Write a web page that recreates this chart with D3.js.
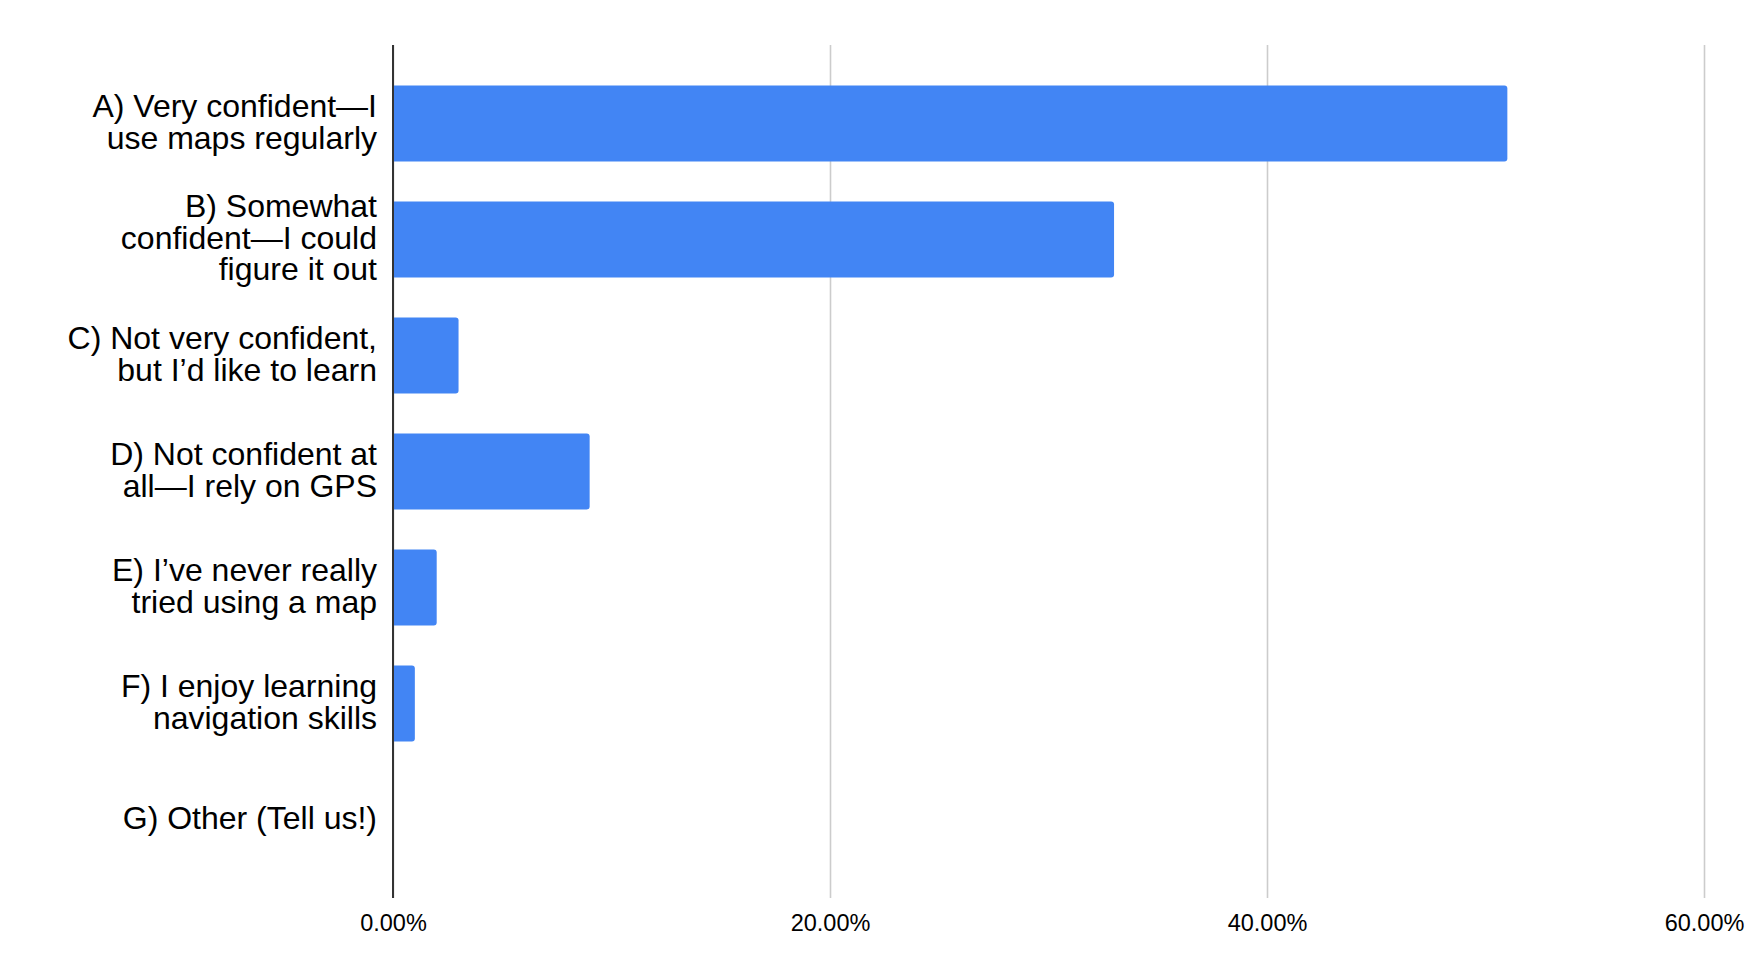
<!DOCTYPE html>
<meta charset="utf-8">
<style>
body { margin: 0; background: #fff; }
svg { display: block; font-family: "Liberation Sans", Arial, Helvetica, sans-serif; }
.grid line { stroke: #cccccc; stroke-width: 1.6px; }
.grid path { display: none; }
.grid text { font-size: 23.5px; fill: #000; }
.labels text { font-size: 32px; fill: #000; }
</style>
<svg width="1752" height="978"></svg>
<script src="https://d3js.org/d3.v7.min.js"></script>
<script>

// answers, one per bar (top to bottom)
var categories = [
  ["A) Very confident\u2014I", "use maps regularly"],
  ["B) Somewhat", "confident\u2014I could", "figure it out"],
  ["C) Not very confident,", "but I\u2019d like to learn"],
  ["D) Not confident at", "all\u2014I rely on GPS"],
  ["E) I\u2019ve never really", "tried using a map"],
  ["F) I enjoy learning", "navigation skills"],
  ["G) Other (Tell us!)"]
];
var shares = [0.51, 0.33, 0.03, 0.09, 0.02, 0.01, 0];
var tickValues = [0, 0.2, 0.4, 0.6];

var svg = d3.select("svg");
var plotLeft = 393, plotRight = 1704, plotTop = 45, plotBottom = 898;

var x = d3.scaleLinear().domain([0, 0.6]).range([plotLeft, plotRight]);
var y = d3.scaleBand()
    .domain(d3.range(categories.length))
    .range([plotTop, plotBottom])
    .paddingInner(0.345)
    .paddingOuter(0.349);

// gridlines + tick labels
var grid = svg.append("g")
    .attr("class", "grid")
    .attr("transform", "translate(0," + plotBottom + ")")
    .call(d3.axisBottom(x)
      .tickValues(tickValues)
      .tickSize(-(plotBottom - plotTop))
      .tickPadding(0)
      .tickFormat(d3.format(".2%")));
grid.selectAll("text").attr("dy", null).attr("y", 32.5);

// bars: square at the axis, rounded at the end
function barPath(d, i) {
  var x0 = x(0), x1 = x(d), y0 = y(i), h = y.bandwidth();
  var r = Math.min(3, (x1 - x0) / 2);
  return "M" + x0 + "," + y0 +
    "H" + (x1 - r) + "Q" + x1 + "," + y0 + " " + x1 + "," + (y0 + r) +
    "V" + (y0 + h - r) + "Q" + x1 + "," + (y0 + h) + " " + (x1 - r) + "," + (y0 + h) +
    "H" + x0 + "Z";
}

svg.append("g")
  .selectAll("path")
  .data(shares)
  .enter().append("path")
    .attr("fill", "#4285f4")
    .attr("display", function(d) { return d > 0 ? null : "none"; })
    .attr("d", barPath);

// zero axis line
svg.append("line")
    .attr("x1", x(0)).attr("x2", x(0))
    .attr("y1", plotTop).attr("y2", plotBottom)
    .attr("stroke", "#333")
    .attr("stroke-width", 2);

// category labels, wrapped lines
var lineH = 31.7;
var lab = svg.append("g").attr("class", "labels")
  .selectAll("text")
  .data(categories)
  .enter().append("text")
    .attr("text-anchor", "end")
    .attr("x", 377)
    .attr("y", function(d, i) {
      return y(i) + y.bandwidth() / 2 + 9.2 - (d.length - 1) / 2 * lineH;
    });

lab.selectAll("tspan")
  .data(function(d) { return d; })
  .enter().append("tspan")
    .attr("x", 377)
    .attr("dy", function(d, j) { return j ? lineH : 0; })
    .text(function(d) { return d; });

</script>
